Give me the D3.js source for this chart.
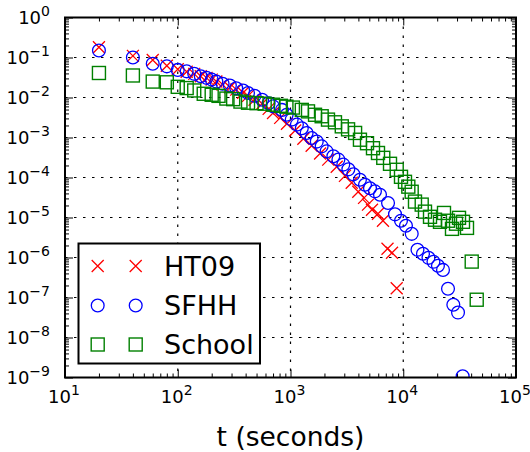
<!DOCTYPE html>
<html>
<head>
<meta charset="utf-8">
<script src="https://cdn.jsdelivr.net/npm/d3@7"></script>
<style>
  body { margin: 0; background: #fff; }
  text { font-family: "DejaVu Sans", sans-serif; fill: #000; }
</style>
</head>
<body>
<svg id="svg"></svg>
<script>
// contact duration distributions
const ht09X = [20, 40, 60, 80, 100, 120, 140, 160, 180, 200, 220, 250, 290, 330, 380, 420, 480, 560, 640, 700,
               810, 930, 1100, 1300, 1540, 1830, 2160, 2570, 3040, 3490, 3990, 4490, 4870, 5280, 5970, 6610, 7250, 7950, 8750];
const ht09Y = [0.18, 0.11, 0.087, 0.062, 0.051, 0.044, 0.039, 0.034, 0.031, 0.028, 0.025, 0.021, 0.018, 0.0157, 0.0131, 0.011, 0.0088, 0.0070, 0.0052, 0.0041,
               0.0031, 0.0022, 0.0015, 0.00093, 0.00062, 0.00040, 0.00028, 0.000185, 0.00011, 7.4e-5, 4.4e-5, 3.1e-5, 2.1e-5, 1.56e-5, 1.24e-5, 8.3e-6, 1.65e-6, 1.31e-6, 1.7e-7];

const sfhhX = [20, 40, 60, 80, 100, 120, 140, 160, 180, 200, 220, 250, 290, 330, 380, 420, 480, 560, 640, 700,
               840, 925, 1025, 1140, 1260, 1390, 1540, 1710, 1890, 2090, 2400, 2660, 2940, 3260, 3610, 4130, 4580, 5070, 5610, 6220,
               7330, 8450, 9550, 10570, 11890, 13370, 14960, 16740, 18530, 20310, 22520, 24940, 27800, 30600, 33650];
const sfhhY = [0.15, 0.10, 0.070, 0.060, 0.049, 0.045, 0.039, 0.034, 0.031, 0.028, 0.025, 0.022, 0.020, 0.017, 0.015, 0.013, 0.011, 0.0088, 0.0072, 0.0060,
               0.0049, 0.0037, 0.0028, 0.0021, 0.0017, 0.0013, 0.00097, 0.00079, 0.00060, 0.00045, 0.00034, 0.00028, 0.00021, 0.00016, 0.00012, 8.8e-5, 6.6e-5, 5.4e-5, 4.5e-5, 3.7e-5,
               2.3e-5, 1.2e-5, 8.3e-6, 6.2e-6, 3.9e-6, 1.56e-6, 1.24e-6, 9.8e-7, 7.8e-7, 6.2e-7, 4.9e-7, 1.65e-7, 6.6e-8, 4.2e-8, 1.07e-9];

const schoolX = [20, 40, 60, 80, 100, 120, 140, 170, 200, 230, 270, 310, 360, 420, 500, 590, 700, 820, 920, 1050,
                 1260, 1430, 1650, 1890, 2150, 2480, 2850, 3240, 3740, 4130, 4770, 5390, 5970, 6650, 7630, 8750, 9550, 10360, 11090, 11880,
                 12710, 14580, 15590, 17270, 19120, 21180, 22980, 24940, 27060, 29370, 31230, 33880, 36760, 40480, 44830];
const schoolY = [0.041, 0.0355, 0.025, 0.024, 0.0185, 0.0172, 0.015, 0.0124, 0.0117, 0.011, 0.0094, 0.0091, 0.0079, 0.0074, 0.0072, 0.0070, 0.0066, 0.0062, 0.0059, 0.0056,
                 0.0049, 0.0045, 0.0037, 0.0034, 0.0028, 0.0024, 0.0019, 0.0016, 0.0013, 0.00088, 0.00072, 0.00054, 0.00041, 0.00031, 0.00022, 0.000156, 0.000104, 7.8e-5, 5.9e-5, 4.4e-5,
                 2.5e-5, 2.1e-5, 1.4e-5, 1.04e-5, 8.8e-6, 7.8e-6, 1.3e-5, 8.3e-6, 5.2e-6, 7.0e-6, 9.8e-6, 7.8e-6, 5.5e-6, 7.9e-7, 8.8e-8];

const seriesNames = ["HT09", "SFHH", "School"];
const xTickExp = [1, 2, 3, 4, 5];
const yTickExp = [0, -1, -2, -3, -4, -5, -6, -7, -8, -9];
const xLabel = "t (seconds)";

const w = 530;
const h = 452;
const margin = { top: 17.5, right: 14, bottom: 74.5, left: 65 };
const pw = w - margin.left - margin.right;
const ph = h - margin.top - margin.bottom;

let svg = d3.select("#svg")
  .attr("width", w)
  .attr("height", h);

svg.append("rect").attr("width", w).attr("height", h).attr("fill", "#fff");

let chart = svg.append("g")
  .attr("transform", "translate(" + margin.left + "," + margin.top + ")");

const xScale = d3.scaleLog().domain([1e1, 1e5]).range([0, pw]);
const yScale = d3.scaleLog().domain([1e-9, 1e0]).range([ph, 0]);

// major and minor tick positions
const xMajor = xTickExp.map(e => Math.pow(10, e));
const yMajor = yTickExp.map(e => Math.pow(10, e));
let xMinor = [], yMinor = [];
for (let e = 1; e < 5; e++) for (let m = 2; m < 10; m++) xMinor.push(m * Math.pow(10, e));
for (let e = -9; e < 0; e++) for (let m = 2; m < 10; m++) yMinor.push(m * Math.pow(10, e));

// dotted grid
chart.append("g").selectAll("line")
  .data(xMajor.slice(1, -1))
  .enter().append("line")
  .attr("x1", d => xScale(d)).attr("x2", d => xScale(d))
  .attr("y1", 0).attr("y2", ph)
  .attr("stroke", "#000").attr("stroke-width", 1.2)
  .attr("stroke-dasharray", "2.5,6.5");
chart.append("g").selectAll("line")
  .data(yMajor.slice(1, -1))
  .enter().append("line")
  .attr("y1", d => yScale(d)).attr("y2", d => yScale(d))
  .attr("x1", 0).attr("x2", pw)
  .attr("stroke", "#000").attr("stroke-width", 1.2)
  .attr("stroke-dasharray", "2.5,6.5");

// inward ticks on all four sides
function addAxis(axis, vals, size, tr) {
  let g = chart.append("g")
    .attr("transform", tr)
    .call(axis.tickValues(vals).tickSize(-size).tickFormat(""));
  g.select(".domain").remove();
  g.selectAll(".tick line").attr("stroke", "#000").attr("stroke-width", 1);
}
addAxis(d3.axisBottom(xScale), xMajor, 8, "translate(0," + ph + ")");
addAxis(d3.axisBottom(xScale), xMinor, 4, "translate(0," + ph + ")");
addAxis(d3.axisTop(xScale), xMajor, 8, "translate(0,0)");
addAxis(d3.axisTop(xScale), xMinor, 4, "translate(0,0)");
addAxis(d3.axisLeft(yScale), yMajor, 8, "translate(0,0)");
addAxis(d3.axisLeft(yScale), yMinor, 4, "translate(0,0)");
addAxis(d3.axisRight(yScale), yMajor, 8, "translate(" + pw + ",0)");
addAxis(d3.axisRight(yScale), yMinor, 4, "translate(" + pw + ",0)");

// tick labels 10^n
function expText(sel, e) {
  sel.append("tspan").attr("font-size", "18px").text("10");
  sel.append("tspan").attr("font-size", "14px").attr("dy", "-8")
    .text(String(e).replace("-", "\u2212"));
}
chart.append("g").selectAll("text")
  .data(xTickExp)
  .enter().append("text")
  .attr("x", d => xScale(Math.pow(10, d)) - 1)
  .attr("y", ph + 25)
  .attr("text-anchor", "middle")
  .each(function(d) { expText(d3.select(this), d); });
chart.append("g").selectAll("text")
  .data(yTickExp)
  .enter().append("text")
  .attr("x", -15)
  .attr("y", d => yScale(Math.pow(10, d)) + 6.5)
  .attr("text-anchor", "end")
  .each(function(d) { expText(d3.select(this), d); });

// axis title
svg.append("text")
  .attr("x", margin.left + pw / 2)
  .attr("y", 446)
  .attr("text-anchor", "middle")
  .attr("font-size", "26.5px")
  .text(xLabel);

// markers
chart.append("clipPath").attr("id", "plotclip")
  .append("rect").attr("width", pw).attr("height", ph);
let marks = chart.append("g").attr("clip-path", "url(#plotclip)");

function drawCross(g, cx, cy, s) {
  g.append("path")
    .attr("d", "M" + (cx - s) + "," + (cy - s) + "L" + (cx + s) + "," + (cy + s) +
               "M" + (cx - s) + "," + (cy + s) + "L" + (cx + s) + "," + (cy - s))
    .attr("stroke", "#ff0000").attr("stroke-width", 1.3).attr("fill", "none");
}
function drawCircle(g, cx, cy) {
  g.append("circle").attr("cx", cx).attr("cy", cy).attr("r", 6.4)
    .attr("stroke", "#0000ff").attr("stroke-width", 1.3).attr("fill", "none");
}
function drawSquare(g, cx, cy) {
  g.append("rect").attr("x", cx - 6.5).attr("y", cy - 6.5)
    .attr("width", 13).attr("height", 13)
    .attr("stroke", "#008000").attr("stroke-width", 1.4).attr("fill", "none");
}

ht09X.forEach((x, i) => drawCross(marks, xScale(x), yScale(ht09Y[i]), 6));
sfhhX.forEach((x, i) => drawCircle(marks, xScale(x), yScale(sfhhY[i])));
schoolX.forEach((x, i) => drawSquare(marks, xScale(x), yScale(schoolY[i])));

// frame
chart.append("rect")
  .attr("width", pw).attr("height", ph)
  .attr("fill", "none").attr("stroke", "#000").attr("stroke-width", 2);

// legend
let legend = svg.append("g");
legend.append("rect")
  .attr("x", 78.5).attr("y", 243.5).attr("width", 181.5).attr("height", 120)
  .attr("fill", "#fff").attr("stroke", "#000").attr("stroke-width", 2);
const legendRows = [266, 305.5, 344.5];
const markerX = [97.7, 135.7];
seriesNames.forEach((name, i) => {
  let cy = legendRows[i];
  markerX.forEach(mx => {
    if (i === 0) drawCross(legend, mx, cy, 6);
    else if (i === 1) drawCircle(legend, mx, cy);
    else drawSquare(legend, mx, cy);
  });
  legend.append("text")
    .attr("x", 164)
    .attr("y", cy + 9.5)
    .attr("font-size", "27px")
    .text(name);
});
</script>
</body>
</html>
